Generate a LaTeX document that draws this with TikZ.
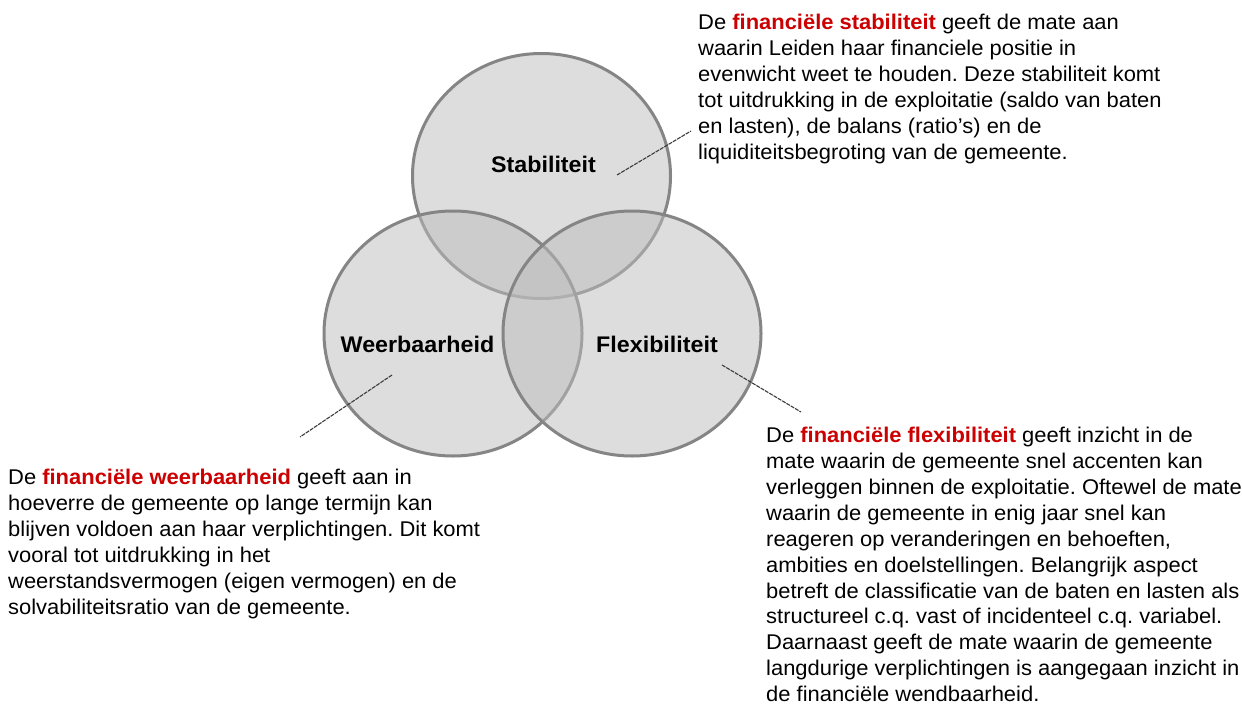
\documentclass[tikz,border=0pt]{standalone}
\usepackage{fontspec}
\setmainfont{Liberation Sans}[FakeStretch=1.03]
\usetikzlibrary{positioning}
\definecolor{vennfill}{RGB}{189,189,189}
\definecolor{vennline}{RGB}{133,133,133}
\definecolor{hlred}{RGB}{204,0,0}
\definecolor{leader}{RGB}{60,60,60}
\newcommand{\hl}[1]{\textcolor{hlred}{\bfseries #1}}
\frenchspacing
\tikzset{
  venn/.style={fill=vennfill, fill opacity=0.5, draw=vennline, line width=3pt},
  bodytext/.style={anchor=north west, inner sep=0pt, align=left, text=black,
    font=\fontsize{21.3}{25.9}\selectfont},
  vennlabel/.style={anchor=base, inner sep=0pt, text=black,
    font=\fontsize{22.6}{26}\selectfont\bfseries},
  leaderline/.style={draw=leader, line width=1.1pt, dash pattern=on 4pt off 1pt},
}
\begin{document}
\begin{tikzpicture}[x=1pt,y=-1pt]
\useasboundingbox[fill=white] (0,0) rectangle (1242,704);
% circles
\coordinate (cT) at (541.5,176);
\coordinate (cL) at (453,333.5);
\coordinate (cR) at (632,333.5);
\path[venn] (cT) ellipse [x radius=129pt, y radius=122.5pt];
\path[venn] (cL) ellipse [x radius=129pt, y radius=122.5pt];
\path[venn] (cR) ellipse [x radius=129pt, y radius=122.5pt];
% labels
\node[vennlabel] (labS) at (543.5,172) {Stabiliteit};
\node[vennlabel] (labW) at (417.5,352) {Weerbaarheid};
\node[vennlabel] (labF) at (657,352) {Flexibiliteit};
% texts
\node[bodytext] (txtS) at (698,14) {De \hl{financiële stabiliteit} geeft de mate aan\\
waarin Leiden haar financiele positie in\\
evenwicht weet te houden. Deze stabiliteit komt\\
tot uitdrukking in de exploitatie (saldo van baten\\
en lasten), de balans (ratio's) en de\\
liquiditeitsbegroting van de gemeente.};
\node[bodytext] (txtW) at (8,469) {De \hl{financiële weerbaarheid} geeft aan in\\
hoeverre de gemeente op lange termijn kan\\
blijven voldoen aan haar verplichtingen. Dit komt\\
vooral tot uitdrukking in het\\
weerstandsvermogen (eigen vermogen) en de\\
solvabiliteitsratio van de gemeente.};
\node[bodytext] (txtF) at (766,427) {De \hl{financiële flexibiliteit} geeft inzicht in de\\
mate waarin de gemeente snel accenten kan\\
verleggen binnen de exploitatie. Oftewel de mate\\
waarin de gemeente in enig jaar snel kan\\
reageren op veranderingen en behoeften,\\
ambities en doelstellingen. Belangrijk aspect\\
betreft de classificatie van de baten en lasten als\\
structureel c.q. vast of incidenteel c.q. variabel.\\
Daarnaast geeft de mate waarin de gemeente\\
langdurige verplichtingen is aangegaan inzicht in\\
de financiële wendbaarheid.};
% leader lines
\coordinate (lS1) at (617,175);
\coordinate (lS2) at (691,131);
\coordinate (lW1) at (392,375);
\coordinate (lW2) at (300,437);
\coordinate (lF1) at (722,365);
\coordinate (lF2) at (801,412);
\draw[leaderline] (lS1) -- (lS2);
\draw[leaderline] (lW1) -- (lW2);
\draw[leaderline] (lF1) -- (lF2);
\end{tikzpicture}
\end{document}
